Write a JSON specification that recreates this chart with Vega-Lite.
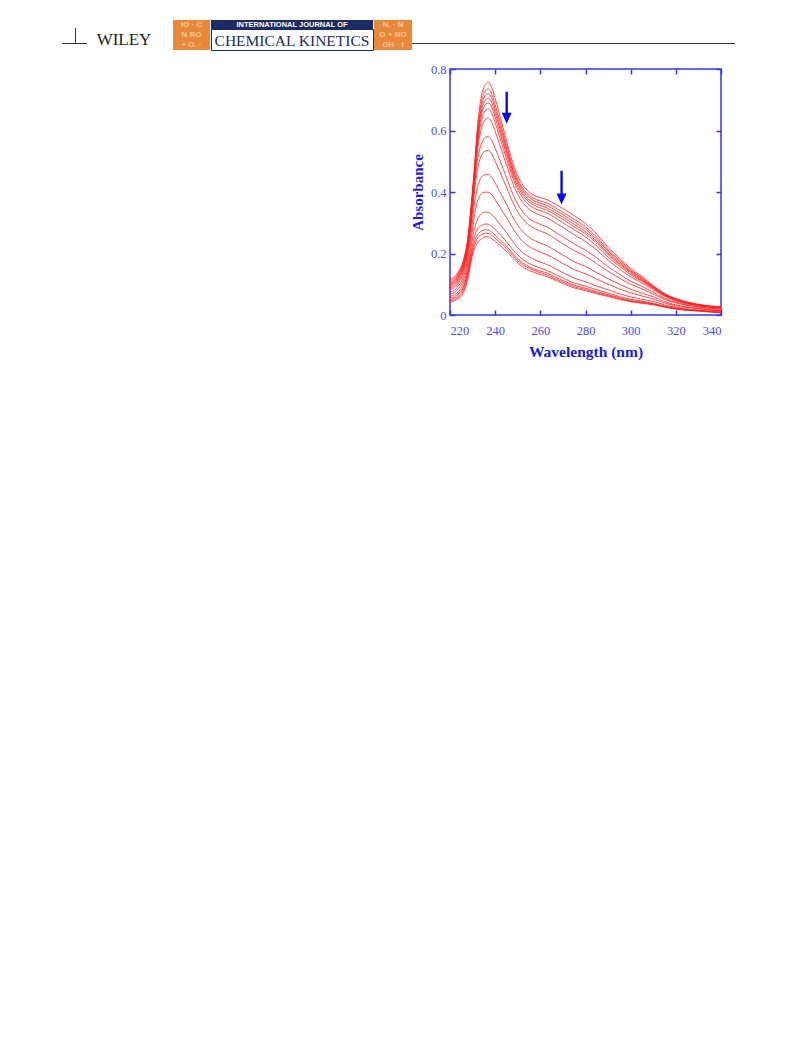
{
 "$schema": "https://vega.github.io/schema/vega-lite/v6.json",
 "background": "white",
 "padding": {"left": 62, "top": 20, "right": 0, "bottom": 0},
 "config": {"view": {"stroke": null}, "font": "Liberation Serif", "axis": {"grid": false}},
 "datasets": {
  "empty": [],
  "arrows": [{"wl": 245.1, "top": 0.726, "head": 0.64}, {"wl": 269.4, "top": 0.469, "head": 0.377}],
  "spectra": [
   {"wl":220,"c01":0.118,"c02":0.113,"c03":0.108,"c04":0.104,"c05":0.1,"c06":0.097,"c07":0.093,"c08":0.088,"c09":0.083,"c10":0.075,"c11":0.068,"c12":0.06,"c13":0.054,"c14":0.05,"c15":0.045,"c16":0.041},
   {"wl":222,"c01":0.125,"c02":0.12,"c03":0.116,"c04":0.112,"c05":0.108,"c06":0.104,"c07":0.1,"c08":0.095,"c09":0.09,"c10":0.081,"c11":0.074,"c12":0.066,"c13":0.06,"c14":0.055,"c15":0.05,"c16":0.046},
   {"wl":224,"c01":0.145,"c02":0.14,"c03":0.136,"c04":0.132,"c05":0.128,"c06":0.124,"c07":0.12,"c08":0.113,"c09":0.107,"c10":0.097,"c11":0.088,"c12":0.078,"c13":0.071,"c14":0.066,"c15":0.06,"c16":0.055},
   {"wl":226,"c01":0.18,"c02":0.175,"c03":0.17,"c04":0.166,"c05":0.162,"c06":0.158,"c07":0.153,"c08":0.145,"c09":0.138,"c10":0.125,"c11":0.114,"c12":0.102,"c13":0.093,"c14":0.087,"c15":0.08,"c16":0.072},
   {"wl":228,"c01":0.26,"c02":0.25,"c03":0.245,"c04":0.24,"c05":0.235,"c06":0.23,"c07":0.225,"c08":0.215,"c09":0.205,"c10":0.19,"c11":0.175,"c12":0.16,"c13":0.148,"c14":0.138,"c15":0.13,"c16":0.12},
   {"wl":229,"c01":0.33,"c02":0.32,"c03":0.315,"c04":0.31,"c05":0.305,"c06":0.3,"c07":0.29,"c08":0.28,"c09":0.27,"c10":0.245,"c11":0.225,"c12":0.205,"c13":0.19,"c14":0.178,"c15":0.168,"c16":0.16},
   {"wl":230,"c01":0.41,"c02":0.4,"c03":0.395,"c04":0.39,"c05":0.385,"c06":0.38,"c07":0.37,"c08":0.355,"c09":0.34,"c10":0.31,"c11":0.28,"c12":0.25,"c13":0.23,"c14":0.216,"c15":0.205,"c16":0.195},
   {"wl":231,"c01":0.5,"c02":0.49,"c03":0.48,"c04":0.475,"c05":0.47,"c06":0.46,"c07":0.45,"c08":0.43,"c09":0.41,"c10":0.37,"c11":0.33,"c12":0.285,"c13":0.258,"c14":0.243,"c15":0.23,"c16":0.217},
   {"wl":232,"c01":0.6,"c02":0.585,"c03":0.57,"c04":0.56,"c05":0.55,"c06":0.54,"c07":0.525,"c08":0.495,"c09":0.465,"c10":0.41,"c11":0.365,"c12":0.308,"c13":0.276,"c14":0.259,"c15":0.246,"c16":0.232},
   {"wl":233,"c01":0.67,"c02":0.65,"c03":0.635,"c04":0.625,"c05":0.612,"c06":0.597,"c07":0.575,"c08":0.535,"c09":0.5,"c10":0.435,"c11":0.385,"c12":0.322,"c13":0.286,"c14":0.268,"c15":0.256,"c16":0.242},
   {"wl":234,"c01":0.715,"c02":0.695,"c03":0.68,"c04":0.667,"c05":0.653,"c06":0.635,"c07":0.61,"c08":0.558,"c09":0.52,"c10":0.449,"c11":0.395,"c12":0.33,"c13":0.292,"c14":0.273,"c15":0.262,"c16":0.248},
   {"wl":235,"c01":0.74,"c02":0.72,"c03":0.705,"c04":0.69,"c05":0.676,"c06":0.657,"c07":0.628,"c08":0.572,"c09":0.53,"c10":0.455,"c11":0.399,"c12":0.334,"c13":0.295,"c14":0.276,"c15":0.265,"c16":0.253},
   {"wl":236,"c01":0.752,"c02":0.732,"c03":0.717,"c04":0.702,"c05":0.687,"c06":0.667,"c07":0.638,"c08":0.579,"c09":0.534,"c10":0.458,"c11":0.4,"c12":0.335,"c13":0.296,"c14":0.277,"c15":0.266,"c16":0.255},
   {"wl":237,"c01":0.757,"c02":0.735,"c03":0.72,"c04":0.705,"c05":0.69,"c06":0.67,"c07":0.64,"c08":0.58,"c09":0.535,"c10":0.457,"c11":0.399,"c12":0.334,"c13":0.295,"c14":0.276,"c15":0.265,"c16":0.254},
   {"wl":238,"c01":0.748,"c02":0.727,"c03":0.712,"c04":0.697,"c05":0.683,"c06":0.663,"c07":0.633,"c08":0.574,"c09":0.53,"c10":0.452,"c11":0.395,"c12":0.33,"c13":0.291,"c14":0.272,"c15":0.262,"c16":0.25},
   {"wl":240,"c01":0.705,"c02":0.684,"c03":0.67,"c04":0.657,"c05":0.643,"c06":0.625,"c07":0.597,"c08":0.542,"c09":0.5,"c10":0.429,"c11":0.375,"c12":0.315,"c13":0.278,"c14":0.26,"c15":0.25,"c16":0.24},
   {"wl":242,"c01":0.65,"c02":0.632,"c03":0.62,"c04":0.608,"c05":0.595,"c06":0.579,"c07":0.554,"c08":0.505,"c09":0.467,"c10":0.402,"c11":0.352,"c12":0.296,"c13":0.263,"c14":0.246,"c15":0.237,"c16":0.227},
   {"wl":245,"c01":0.568,"c02":0.553,"c03":0.543,"c04":0.533,"c05":0.523,"c06":0.509,"c07":0.489,"c08":0.447,"c09":0.416,"c10":0.36,"c11":0.317,"c12":0.268,"c13":0.238,"c14":0.224,"c15":0.216,"c16":0.207},
   {"wl":248,"c01":0.49,"c02":0.478,"c03":0.469,"c04":0.462,"c05":0.453,"c06":0.442,"c07":0.425,"c08":0.39,"c09":0.363,"c10":0.316,"c11":0.28,"c12":0.237,"c13":0.211,"c14":0.199,"c15":0.192,"c16":0.184},
   {"wl":251,"c01":0.438,"c02":0.427,"c03":0.42,"c04":0.412,"c05":0.404,"c06":0.395,"c07":0.379,"c08":0.348,"c09":0.324,"c10":0.282,"c11":0.249,"c12":0.211,"c13":0.188,"c14":0.176,"c15":0.17,"c16":0.163},
   {"wl":255,"c01":0.399,"c02":0.389,"c03":0.382,"c04":0.374,"c05":0.368,"c06":0.358,"c07":0.344,"c08":0.314,"c09":0.292,"c10":0.253,"c11":0.223,"c12":0.189,"c13":0.168,"c14":0.157,"c15":0.152,"c16":0.145},
   {"wl":259,"c01":0.384,"c02":0.373,"c03":0.366,"c04":0.359,"c05":0.351,"c06":0.342,"c07":0.327,"c08":0.298,"c09":0.276,"c10":0.237,"c11":0.208,"c12":0.175,"c13":0.155,"c14":0.145,"c15":0.14,"c16":0.134},
   {"wl":263,"c01":0.375,"c02":0.364,"c03":0.356,"c04":0.348,"c05":0.341,"c06":0.331,"c07":0.316,"c08":0.286,"c09":0.264,"c10":0.225,"c11":0.196,"c12":0.164,"c13":0.145,"c14":0.136,"c15":0.13,"c16":0.125},
   {"wl":267,"c01":0.359,"c02":0.347,"c03":0.339,"c04":0.331,"c05":0.324,"c06":0.314,"c07":0.298,"c08":0.268,"c09":0.246,"c10":0.208,"c11":0.18,"c12":0.149,"c13":0.131,"c14":0.122,"c15":0.117,"c16":0.112},
   {"wl":271,"c01":0.342,"c02":0.33,"c03":0.322,"c04":0.314,"c05":0.306,"c06":0.295,"c07":0.28,"c08":0.249,"c09":0.227,"c10":0.19,"c11":0.163,"c12":0.134,"c13":0.117,"c14":0.109,"c15":0.104,"c16":0.099},
   {"wl":275,"c01":0.323,"c02":0.311,"c03":0.303,"c04":0.295,"c05":0.287,"c06":0.277,"c07":0.261,"c08":0.231,"c09":0.209,"c10":0.173,"c11":0.148,"c12":0.12,"c13":0.104,"c14":0.097,"c15":0.092,"c16":0.088},
   {"wl":280,"c01":0.298,"c02":0.287,"c03":0.279,"c04":0.271,"c05":0.264,"c06":0.254,"c07":0.239,"c08":0.211,"c09":0.191,"c10":0.158,"c11":0.134,"c12":0.108,"c13":0.094,"c14":0.087,"c15":0.083,"c16":0.079},
   {"wl":285,"c01":0.263,"c02":0.253,"c03":0.246,"c04":0.239,"c05":0.233,"c06":0.224,"c07":0.211,"c08":0.186,"c09":0.167,"c10":0.138,"c11":0.117,"c12":0.094,"c13":0.082,"c14":0.076,"c15":0.072,"c16":0.069},
   {"wl":290,"c01":0.22,"c02":0.212,"c03":0.207,"c04":0.201,"c05":0.196,"c06":0.188,"c07":0.178,"c08":0.157,"c09":0.142,"c10":0.118,"c11":0.1,"c12":0.082,"c13":0.071,"c14":0.066,"c15":0.063,"c16":0.06},
   {"wl":295,"c01":0.185,"c02":0.179,"c03":0.174,"c04":0.169,"c05":0.165,"c06":0.159,"c07":0.15,"c08":0.133,"c09":0.12,"c10":0.1,"c11":0.085,"c12":0.069,"c13":0.06,"c14":0.056,"c15":0.053,"c16":0.051},
   {"wl":300,"c01":0.152,"c02":0.147,"c03":0.143,"c04":0.14,"c05":0.136,"c06":0.131,"c07":0.124,"c08":0.11,"c09":0.1,"c10":0.084,"c11":0.072,"c12":0.059,"c13":0.051,"c14":0.047,"c15":0.045,"c16":0.043},
   {"wl":305,"c01":0.125,"c02":0.121,"c03":0.118,"c04":0.115,"c05":0.112,"c06":0.109,"c07":0.104,"c08":0.093,"c09":0.085,"c10":0.071,"c11":0.062,"c12":0.051,"c13":0.045,"c14":0.042,"c15":0.04,"c16":0.038},
   {"wl":310,"c01":0.096,"c02":0.093,"c03":0.091,"c04":0.09,"c05":0.088,"c06":0.086,"c07":0.082,"c08":0.074,"c09":0.068,"c10":0.059,"c11":0.052,"c12":0.044,"c13":0.038,"c14":0.036,"c15":0.035,"c16":0.033},
   {"wl":315,"c01":0.07,"c02":0.068,"c03":0.068,"c04":0.066,"c05":0.065,"c06":0.063,"c07":0.061,"c08":0.055,"c09":0.051,"c10":0.044,"c11":0.039,"c12":0.033,"c13":0.029,"c14":0.028,"c15":0.027,"c16":0.0255},
   {"wl":320,"c01":0.054,"c02":0.052,"c03":0.051,"c04":0.05,"c05":0.05,"c06":0.048,"c07":0.046,"c08":0.042,"c09":0.039,"c10":0.033,"c11":0.03,"c12":0.025,"c13":0.022,"c14":0.021,"c15":0.02,"c16":0.019},
   {"wl":330,"c01":0.035,"c02":0.034,"c03":0.033,"c04":0.032,"c05":0.032,"c06":0.031,"c07":0.03,"c08":0.027,"c09":0.026,"c10":0.022,"c11":0.02,"c12":0.016,"c13":0.015,"c14":0.014,"c15":0.013,"c16":0.0128},
   {"wl":340,"c01":0.027,"c02":0.026,"c03":0.025,"c04":0.025,"c05":0.024,"c06":0.023,"c07":0.022,"c08":0.019,"c09":0.017,"c10":0.014,"c11":0.012,"c12":0.01,"c13":0.009,"c14":0.008,"c15":0.0075,"c16":0.007}
  ]
 },
 "spacing": 11,
 "bounds": "full",
 "vconcat": [
  {
   "spacing": 0, "bounds": "full",
   "hconcat": [
    {
     "spacing": 0, "bounds": "full",
     "hconcat": [
      {"spacing": 0, "bounds": "flush", "vconcat": [
        {"data": {"name": "empty"}, "mark": "point", "width": 13, "height": 23},
        {"data": {"name": "empty"}, "mark": "point", "width": 13, "height": 1, "view": {"fill": "#333333", "stroke": null}}
      ]},
      {"spacing": 0, "bounds": "flush", "vconcat": [
        {"data": {"name": "empty"}, "mark": "point", "width": 1, "height": 8},
        {"data": {"name": "empty"}, "mark": "point", "width": 1, "height": 16, "view": {"fill": "#333333", "stroke": null}}
      ]},
      {"spacing": 0, "bounds": "flush", "vconcat": [
        {"data": {"name": "empty"}, "mark": "point", "width": 11, "height": 23},
        {"data": {"name": "empty"}, "mark": "point", "width": 11, "height": 1, "view": {"fill": "#333333", "stroke": null}}
      ]}
     ]
    },
    {
     "data": {"values": [{"t": "WILEY"}]},
     "mark": {"type": "text", "font": "Liberation Serif", "fontSize": 17, "color": "#231f20", "baseline": "middle", "dx": -6, "dy": 5},
     "encoding": {"text": {"field": "t"}},
     "width": 86, "height": 30
    },
    {
     "data": {"values": [{"t": ["IO  · C", "N    RO", "+ O.  ·"]}]},
     "mark": {"type": "text", "font": "Liberation Sans", "fontWeight": "bold", "fontSize": 8, "lineHeight": 10, "color": "#f7c79c", "baseline": "middle", "dy": -10},
     "encoding": {"text": {"field": "t"}},
     "width": 37, "height": 30,
     "view": {"fill": "#e9883a", "stroke": null}
    },
    {
     "spacing": 0, "bounds": "flush",
     "vconcat": [
      {
       "data": {"values": [{"t": "INTERNATIONAL JOURNAL OF"}]},
       "mark": {"type": "text", "font": "Liberation Sans", "fontWeight": "bold", "fontSize": 7.5, "color": "white", "baseline": "middle"},
       "encoding": {"text": {"field": "t"}},
       "width": 162, "height": 9,
       "view": {"fill": "#1c2a66", "stroke": null}
      },
      {
       "data": {"values": [{"t": "CHEMICAL KINETICS"}]},
       "mark": {"type": "text", "font": "Liberation Serif", "fontSize": 15.5, "color": "#1c2a66", "baseline": "middle", "dy": 1},
       "encoding": {"text": {"field": "t"}},
       "width": 162, "height": 21,
       "view": {"fill": "white", "stroke": "#1c2a66", "strokeWidth": 1}
      }
     ]
    },
    {
     "data": {"values": [{"t": ["N. · N", "O + NO", "OH  · I"]}]},
     "mark": {"type": "text", "font": "Liberation Sans", "fontWeight": "bold", "fontSize": 8, "lineHeight": 10, "color": "#f7c79c", "baseline": "middle", "dy": -10},
     "encoding": {"text": {"field": "t"}},
     "width": 38, "height": 30,
     "view": {"fill": "#e9883a", "stroke": null}
    },
    {
     "spacing": 0, "bounds": "flush",
     "vconcat": [
      {"data": {"name": "empty"}, "mark": "point", "width": 323, "height": 23},
      {"data": {"name": "empty"}, "mark": "point", "width": 323, "height": 1, "view": {"fill": "#333333", "stroke": null}}
     ]
    }
   ]
  },
  {
   "spacing": 0, "bounds": "flush",
   "hconcat": [
    {"data": {"name": "empty"}, "mark": "point", "width": 388, "height": 246},
    {
     "width": 271, "height": 246,
     "view": {"stroke": "#3434f5", "strokeWidth": 1.5},
     "resolve": {"axis": {"x": "independent", "y": "independent"}},
     "layer": [
      {
       "data": {"name": "spectra"},
       "transform": [{"fold": ["c01","c02","c03","c04","c05","c06","c07","c08","c09","c10","c11","c12","c13","c14","c15","c16"], "as": ["curve", "A"]}],
       "mark": {"type": "line", "color": "#ff2020", "strokeWidth": 0.9, "opacity": 0.9, "interpolate": "monotone"},
       "encoding": {
        "x": {"field": "wl", "type": "quantitative", "scale": {"domain": [220, 340], "nice": false, "zero": false},
              "axis": {"orient": "bottom", "title": "Wavelength (nm)", "values": [220,240,260,280,300,320,340], "format": "d", "domain": false,
                       "tickSize": -5, "tickWidth": 1.5, "tickColor": "#3434f5", "labelColor": "#4a4aff", "labelFont": "Liberation Serif", "labelFontSize": 12.5, "labelPadding": 14,
                       "titleFont": "Liberation Serif", "titleFontSize": 15.5, "titleFontWeight": "bold", "titleColor": "#1a1ae0", "titlePadding": 8}},
        "y": {"field": "A", "type": "quantitative", "scale": {"domain": [0, 0.8], "nice": false},
              "axis": {"orient": "left", "title": "Absorbance", "values": [0, 0.2, 0.4, 0.6, 0.8], "format": ".1~f", "domain": false,
                       "tickSize": -5, "tickWidth": 1.5, "tickColor": "#3434f5", "labelColor": "#4a4aff", "labelFont": "Liberation Serif", "labelFontSize": 12.5, "labelPadding": 9,
                       "titleFont": "Liberation Serif", "titleFontSize": 15, "titleFontWeight": "bold", "titleColor": "#1a1ae0", "titlePadding": 5}},
        "detail": {"field": "curve", "type": "nominal"}
       }
      },
      {
       "data": {"name": "arrows"},
       "mark": {"type": "rule", "color": "#0a0ae6", "strokeWidth": 2.4},
       "encoding": {
        "x": {"field": "wl", "type": "quantitative", "scale": {"domain": [220, 340], "nice": false, "zero": false},
              "axis": {"orient": "top", "title": null, "labels": false, "values": [220,240,260,280,300,320,340], "domain": false, "tickSize": -5, "tickWidth": 1.5, "tickColor": "#3434f5"}},
        "y": {"field": "top", "type": "quantitative", "scale": {"domain": [0, 0.8], "nice": false},
              "axis": {"orient": "right", "title": null, "labels": false, "values": [0, 0.2, 0.4, 0.6, 0.8], "domain": false, "tickSize": -5, "tickWidth": 1.5, "tickColor": "#3434f5"}},
        "y2": {"field": "head"}
       }
      },
      {
       "data": {"name": "arrows"},
       "mark": {"type": "point", "shape": "M-1,-1.1L1,-1.1L0,1.1Z", "filled": true, "color": "#0a0ae6", "opacity": 1, "size": 100},
       "encoding": {
        "x": {"field": "wl", "type": "quantitative", "axis": null},
        "y": {"field": "head", "type": "quantitative", "axis": null}
       }
      }
     ]
    }
   ]
  }
 ]
}
